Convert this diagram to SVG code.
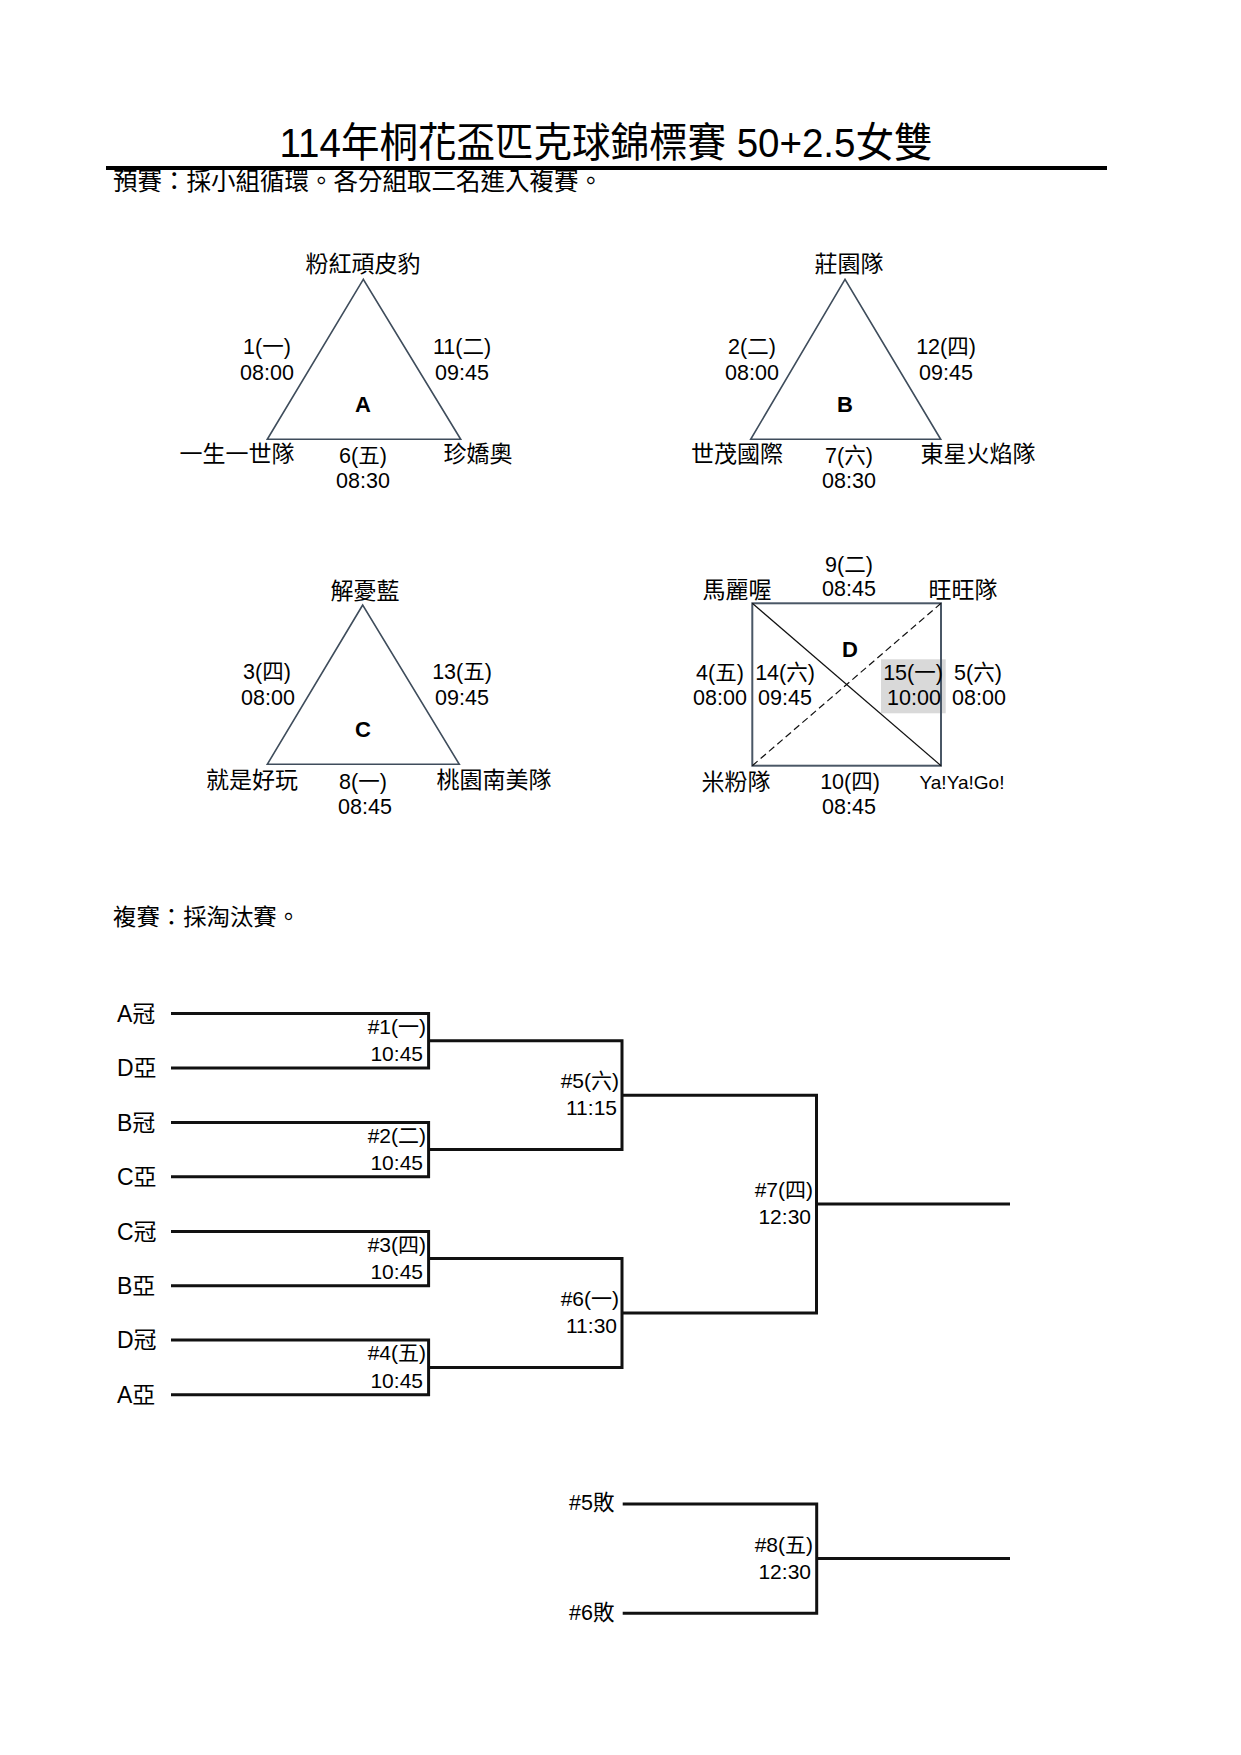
<svg xmlns="http://www.w3.org/2000/svg" width="1241" height="1755" viewBox="0 0 1241 1755">
<style>
text{font-family:"Liberation Sans","Noto Sans CJK TC",sans-serif;fill:#000}
.t{font-size:23px;text-anchor:middle}
.n{font-size:21.5px;text-anchor:middle}
.g{font-size:22px;font-weight:bold;text-anchor:middle}
.b{font-size:21px;text-anchor:end}
.l{font-size:21.5px}
.s{font-size:23px}
.tri{fill:none;stroke:#3f4d5c;stroke-width:1.6}
.br{fill:none;stroke:#111;stroke-width:3}
</style>
<rect width="1241" height="1755" fill="#fff"/>
<g id="header">
<text x="606" y="157" font-size="41" text-anchor="middle" textLength="653" lengthAdjust="spacingAndGlyphs">114年桐花盃匹克球錦標賽 50+2.5女雙</text>
<text x="113" y="190" font-size="25" textLength="490" lengthAdjust="spacingAndGlyphs">預賽：採小組循環。各分組取二名進入複賽。</text>
<line x1="106" y1="168" x2="1107" y2="168" stroke="#000" stroke-width="4"/>
<text x="113" y="925" font-size="23" textLength="187" lengthAdjust="spacingAndGlyphs">複賽：採淘汰賽。</text>
</g>
<g id="groupA">
<polygon class="tri" points="363.3,279.3 267.3,439.3 460.7,439.3"/>
<text class="t" x="363" y="271.5">粉紅頑皮豹</text>
<text class="t" x="237" y="461.5">一生一世隊</text>
<text class="t" x="478" y="461.5">珍嬌奧</text>
<text class="n" x="267" y="354">1(一)</text>
<text class="n" x="267" y="380">08:00</text>
<text class="n" x="462" y="354">11(二)</text>
<text class="n" x="462" y="380">09:45</text>
<text class="g" x="363" y="412">A</text>
<text class="n" x="363" y="463">6(五)</text>
<text class="n" x="363" y="488">08:30</text>
</g>
<g id="groupB">
<polygon class="tri" points="845,279.3 750.7,439.3 940.7,439.3"/>
<text class="t" x="849" y="271.5">莊園隊</text>
<text class="t" x="737" y="461.5">世茂國際</text>
<text class="t" x="978" y="461.5">東星火焰隊</text>
<text class="n" x="752" y="354">2(二)</text>
<text class="n" x="752" y="380">08:00</text>
<text class="n" x="946" y="354">12(四)</text>
<text class="n" x="946" y="380">09:45</text>
<text class="g" x="845" y="412">B</text>
<text class="n" x="849" y="463">7(六)</text>
<text class="n" x="849" y="488">08:30</text>
</g>
<g id="groupC">
<polygon class="tri" points="362.7,605 267.3,764.3 459.3,764.3"/>
<text class="t" x="365" y="598.5">解憂藍</text>
<text class="t" x="252" y="787.5">就是好玩</text>
<text class="t" x="494" y="787.5">桃園南美隊</text>
<text class="n" x="267" y="679">3(四)</text>
<text class="n" x="268" y="705">08:00</text>
<text class="n" x="462" y="679">13(五)</text>
<text class="n" x="462" y="705">09:45</text>
<text class="g" x="363" y="737">C</text>
<text class="n" x="363" y="789">8(一)</text>
<text class="n" x="365" y="814">08:45</text>
</g>
<g id="groupD">
<rect x="881" y="659.3" width="64.7" height="54" fill="#d9d9d9"/>
<rect x="752.3" y="603.3" width="188.7" height="162.4" fill="none" stroke="#4a5766" stroke-width="2"/>
<line x1="752.3" y1="603.3" x2="941" y2="765.7" stroke="#111" stroke-width="1.2"/>
<line x1="752.3" y1="765.7" x2="941" y2="603.3" stroke="#111" stroke-width="1.2" stroke-dasharray="7,4"/>
<text class="n" x="849" y="572">9(二)</text>
<text class="n" x="849" y="596">08:45</text>
<text class="t" x="737" y="597.5">馬麗喔</text>
<text class="t" x="963" y="597.5">旺旺隊</text>
<text class="g" x="850" y="657">D</text>
<text class="n" x="720" y="680">4(五)</text>
<text class="n" x="720" y="705">08:00</text>
<text class="n" x="785" y="680">14(六)</text>
<text class="n" x="785" y="705">09:45</text>
<text class="n" x="913" y="680">15(一)</text>
<text class="n" x="914" y="705">10:00</text>
<text class="n" x="978" y="680">5(六)</text>
<text class="n" x="979" y="705">08:00</text>
<text class="t" x="736" y="789.5">米粉隊</text>
<text class="n" x="850" y="789">10(四)</text>
<text class="n" x="849" y="814">08:45</text>
<text x="962" y="789" font-size="18.5" text-anchor="middle" textLength="85" lengthAdjust="spacingAndGlyphs">Ya!Ya!Go!</text>
</g>
<g id="connectors">
<path class="br" d="M171 1013.6H428.6V1068H171"/>
<path class="br" d="M171 1122.5H428.6V1176.7H171"/>
<path class="br" d="M171 1231.5H428.6V1285.7H171"/>
<path class="br" d="M171 1340H428.6V1394.8H171"/>
<path class="br" d="M428.6 1040.8H622V1149.6H428.6"/>
<path class="br" d="M428.6 1258.6H622V1367.4H428.6"/>
<path class="br" d="M622 1095.2H816.5V1313H622"/>
<path class="br" d="M816.5 1204.1H1010"/>
<path class="br" d="M622.7 1504H816.7V1613.3H622.7"/>
<path class="br" d="M816.7 1558.5H1010"/>
</g>
<g id="bracket-labels">
<text class="s" x="117" y="1021.5">A冠</text>
<text class="s" x="117" y="1076">D亞</text>
<text class="s" x="117" y="1130.5">B冠</text>
<text class="s" x="117" y="1184.5">C亞</text>
<text class="s" x="117" y="1239.5">C冠</text>
<text class="s" x="117" y="1293.5">B亞</text>
<text class="s" x="117" y="1348">D冠</text>
<text class="s" x="117" y="1402.5">A亞</text>
<text class="b" x="426" y="1034">#1(一)</text>
<text class="b" x="423" y="1061">10:45</text>
<text class="b" x="426" y="1142.5">#2(二)</text>
<text class="b" x="423" y="1170">10:45</text>
<text class="b" x="426" y="1251.5">#3(四)</text>
<text class="b" x="423" y="1279">10:45</text>
<text class="b" x="426" y="1360">#4(五)</text>
<text class="b" x="423" y="1387.5">10:45</text>
<text class="b" x="619" y="1088">#5(六)</text>
<text class="b" x="617" y="1115">11:15</text>
<text class="b" x="619" y="1305.5">#6(一)</text>
<text class="b" x="617" y="1332.5">11:30</text>
<text class="b" x="813" y="1197">#7(四)</text>
<text class="b" x="811" y="1224">12:30</text>
<text class="l" x="569" y="1510">#5敗</text>
<text class="l" x="569" y="1620">#6敗</text>
<text class="b" x="813" y="1552">#8(五)</text>
<text class="b" x="811" y="1578.5">12:30</text>
</g>
</svg>
